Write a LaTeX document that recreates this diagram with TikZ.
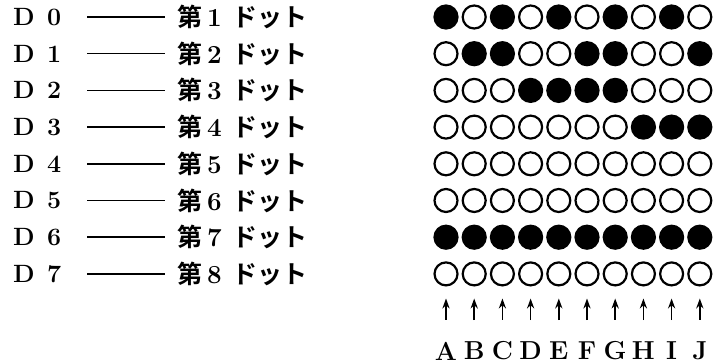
\documentclass[tikz,border=0pt]{standalone}
\usepackage{fontspec}
\newfontfamily\jpfont{Noto Sans CJK JP}[BoldFont={Noto Sans CJK JP Bold}]
\usetikzlibrary{arrows.meta}

\tikzset{
  dot/.style={circle,draw,line width=1.1pt,minimum size=11.5pt,inner sep=0pt},
  bit0/.style={fill=white},
  bit1/.style={fill=black},
  dline/.style={line width=0.8pt,shorten <=9.5pt,shorten >=2.5pt},
  lab/.style={font=\fontsize{12.5}{14}\selectfont\bfseries}
}

\begin{document}
\begin{tikzpicture}[x=0.5pt,y=-0.5pt,>={Stealth[length=5pt,width=3.6pt]}]
\useasboundingbox (0,0) rectangle (716,363);
% data lines and dot rows
\foreach \i in {0,...,7}{
  \pgfmathtruncatemacro\n{\i+1}
  \node[lab,anchor=west] (d\i) at (6,{17+36.7*\i}) {D\hspace{0.5em}\i};
  \node[anchor=west,font=\jpfont\fontsize{12.5}{14}\selectfont\bfseries] (t\i) at (170,{17+36.7*\i}) {第\hspace{0.2em}{\rmfamily\bfseries\fontsize{13}{14}\selectfont\n}\hspace{0.45em}ドット};
  \draw[dline] (d\i.east) -- (t\i.west);
}
% dot pattern
\foreach \r/\bits in {0/{1,0,1,0,1,0,1,0,1,0},1/{0,1,1,0,0,1,1,0,0,1},
  2/{0,0,0,1,1,1,1,0,0,0},3/{0,0,0,0,0,0,0,1,1,1},4/{0,0,0,0,0,0,0,0,0,0},
  5/{0,0,0,0,0,0,0,0,0,0},6/{1,1,1,1,1,1,1,1,1,1},7/{0,0,0,0,0,0,0,0,0,0}}{
  \foreach \b [count=\c from 0] in \bits
    \node[dot,bit\b] (c\r-\c) at ({446+28.2*\c},{17+36.7*\r}) {};
}
% column letters
\foreach \L [count=\c from 0] in {A,B,C,D,E,F,G,H,I,J}{
  \node[lab,font=\fontsize{13}{15}\selectfont\bfseries] (l\c) at ({446+28.2*\c},351) {\L};
  \draw[->,line width=0.75pt,shorten <=7.5pt,shorten >=6pt] (l\c.north) -- (c7-\c.south);
}
\end{tikzpicture}
\end{document}
